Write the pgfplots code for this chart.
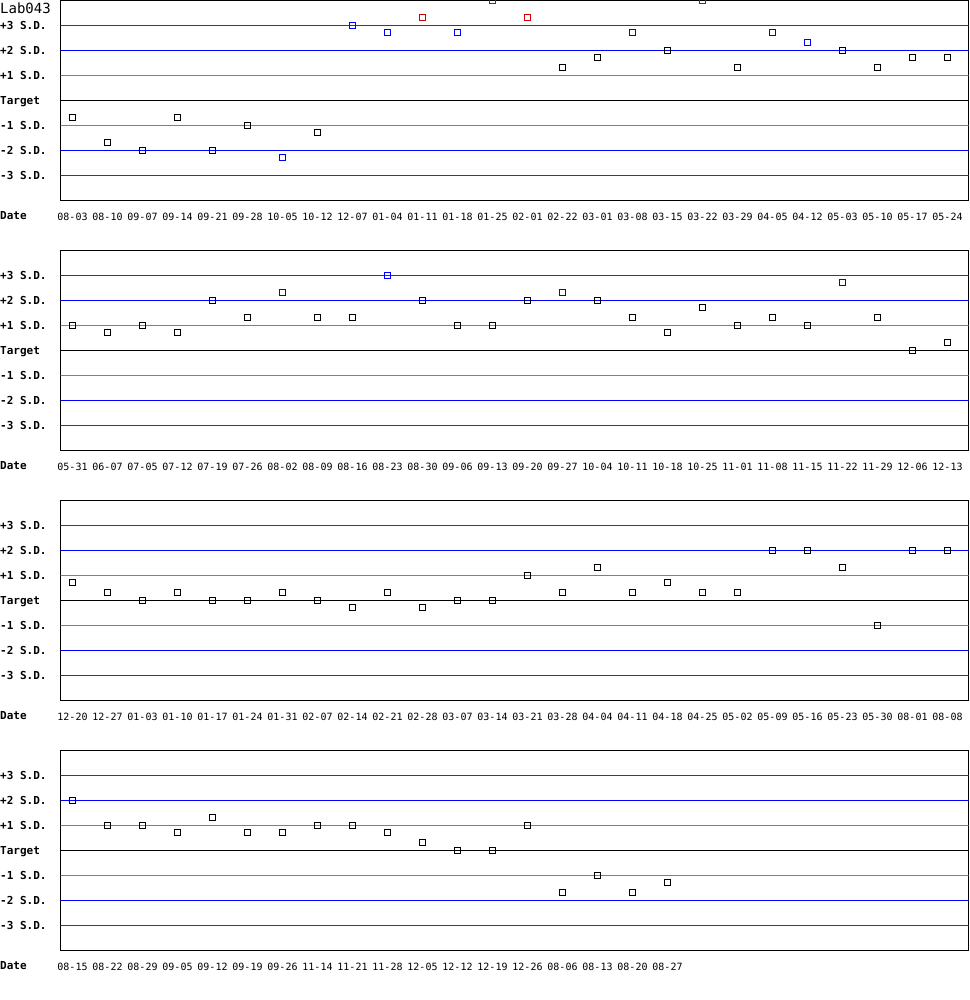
\documentclass[border=0pt]{standalone}
\usepackage{fontspec}
\usepackage{pgfplots}
\pgfplotsset{compat=1.18}
\newfontfamily\mono{DejaVu Sans Mono}
\definecolor{sdred}{RGB}{210,0,0}
\definecolor{sdblue}{RGB}{0,0,255}
\definecolor{sdgray}{RGB}{128,128,128}

\newcommand\sdlines{%
  \draw[sdred,line width=1bp] (axis cs:-1,3) -- (axis cs:30,3);
  \draw[sdblue,line width=1bp] (axis cs:-1,2) -- (axis cs:30,2);
  \draw[sdgray,line width=1bp] (axis cs:-1,1) -- (axis cs:30,1);
  \draw[black,line width=1bp] (axis cs:-1,0) -- (axis cs:30,0);
  \draw[sdgray,line width=1bp] (axis cs:-1,-1) -- (axis cs:30,-1);
  \draw[sdblue,line width=1bp] (axis cs:-1,-2) -- (axis cs:30,-2);
  \draw[sdred,line width=1bp] (axis cs:-1,-3) -- (axis cs:30,-3);
}

\pgfplotsset{
  qc/.style={
    scale only axis, width=908bp, height=200bp,
    anchor=north west,
    xmin=-0.343, xmax=25.6, ymin=-4, ymax=4,
    axis line style={black, line width=1bp},
    major tick length=0pt,
    xtick={0,...,25}, ytick={-3,...,3},
    yticklabels={-3 S.D.,-2 S.D.,-1 S.D.,Target,+1 S.D.,+2 S.D.,+3 S.D.},
    yticklabel style={anchor=base west, xshift=-60.5bp, yshift=-3.8bp, inner sep=0pt,
      font=\mono\bfseries\fontsize{11bp}{13bp}\selectfont},
    xticklabel style={anchor=north, yshift=-12.5bp, inner sep=0pt,
      font=\mono\fontsize{10bp}{12bp}\selectfont},
    xlabel={Date},
    xlabel style={at={(axis description cs:0,0)}, anchor=north west,
      xshift=-60.5bp, yshift=-10.5bp, inner sep=0pt,
      font=\mono\bfseries\fontsize{11bp}{13bp}\selectfont},
    clip marker paths=true,
  },
  pt/.style={only marks, mark=square, mark size=3bp,
    mark options={line width=1bp, solid, fill=none, draw=#1}},
}

\begin{document}
\begin{tikzpicture}
\useasboundingbox (0,0) rectangle (970bp,-1000bp);
\node[anchor=north west, inner sep=0pt, font=\mono\fontsize{14bp}{16bp}\selectfont]
  at (0bp,-2.5bp) {Lab043};

% panel 1
\begin{axis}[qc, at={(60.5bp,-0.5bp)},
  xticklabels={08-03,08-10,09-07,09-14,09-21,09-28,10-05,10-12,12-07,01-04,01-11,01-18,01-25,02-01,02-22,03-01,03-08,03-15,03-22,03-29,04-05,04-12,05-03,05-10,05-17,05-24}]
\sdlines
\addplot[pt=black] coordinates {
  (0,-0.68) (1,-1.68) (2,-2.0) (3,-0.68) (4,-2.0) (5,-1.0) (7,-1.28)
  (14,1.32) (15,1.72) (17,2.0) (19,1.32) (22,2.0) (23,1.32) (24,1.72) (25,1.72)};
\addplot[pt=sdblue] coordinates {
  (6,-2.28) (8,3.0) (9,2.72) (11,2.72) (16,2.72) (20,2.72) (21,2.32)};
\addplot[pt=sdred] coordinates {
  (10,3.32) (12,4.0) (13,3.32) (18,4.0)};
\end{axis}

% panel 2
\begin{axis}[qc, at={(60.5bp,-250.5bp)},
  xticklabels={05-31,06-07,07-05,07-12,07-19,07-26,08-02,08-09,08-16,08-23,08-30,09-06,09-13,09-20,09-27,10-04,10-11,10-18,10-25,11-01,11-08,11-15,11-22,11-29,12-06,12-13}]
\sdlines
\addplot[pt=black] coordinates {
  (0,1.0) (1,0.72) (2,1.0) (3,0.72) (4,2.0) (5,1.32) (7,1.32) (8,1.32)
  (10,2.0) (11,1.0) (12,1.0) (13,2.0) (15,2.0) (16,1.32) (17,0.72) (18,1.72)
  (19,1.0) (20,1.32) (21,1.0) (23,1.32) (24,0.0) (25,0.32)};
\addplot[pt=sdblue] coordinates {
  (6,2.32) (9,3.0) (14,2.32) (22,2.72)};
\end{axis}

% panel 3
\begin{axis}[qc, at={(60.5bp,-500.5bp)},
  xticklabels={12-20,12-27,01-03,01-10,01-17,01-24,01-31,02-07,02-14,02-21,02-28,03-07,03-14,03-21,03-28,04-04,04-11,04-18,04-25,05-02,05-09,05-16,05-23,05-30,08-01,08-08}]
\sdlines
\addplot[pt=black] coordinates {
  (0,0.72) (1,0.32) (2,0.0) (3,0.32) (4,0.0) (5,0.0) (6,0.32) (7,0.0)
  (8,-0.28) (9,0.32) (10,-0.28) (11,0.0) (12,0.0) (13,1.0) (14,0.32) (15,1.32)
  (16,0.32) (17,0.72) (18,0.32) (19,0.32) (20,2.0) (21,2.0) (22,1.32) (23,-1.0)
  (24,2.0) (25,2.0)};
\end{axis}

% panel 4
\begin{axis}[qc, at={(60.5bp,-750.5bp)},
  xtick={0,...,17},
  xticklabels={08-15,08-22,08-29,09-05,09-12,09-19,09-26,11-14,11-21,11-28,12-05,12-12,12-19,12-26,08-06,08-13,08-20,08-27}]
\sdlines
\addplot[pt=black] coordinates {
  (0,2.0) (1,1.0) (2,1.0) (3,0.72) (4,1.32) (5,0.72) (6,0.72) (7,1.0)
  (8,1.0) (9,0.72) (10,0.32) (11,0.0) (12,0.0) (13,1.0) (14,-1.68) (15,-1.0)
  (16,-1.68) (17,-1.28)};
\end{axis}
\end{tikzpicture}
\end{document}
